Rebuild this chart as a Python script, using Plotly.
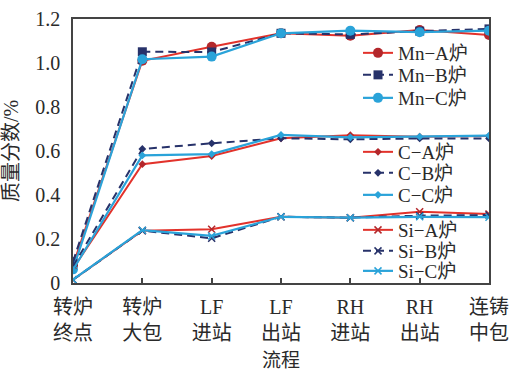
import plotly.graph_objects as go

stages = ["转炉<br>终点", "转炉<br>大包", "LF<br>进站", "LF<br>出站", "RH<br>进站", "RH<br>出站", "连铸<br>中包"]

mn_a = [0.08, 1.01, 1.074, 1.135, 1.124, 1.15, 1.127]
mn_b = [0.097, 1.051, 1.05, 1.135, 1.13, 1.145, 1.155]
mn_c = [0.062, 1.017, 1.029, 1.135, 1.147, 1.14, 1.147]
c_a = [0.065, 0.54, 0.577, 0.658, 0.672, 0.665, 0.668]
c_b = [0.075, 0.609, 0.635, 0.658, 0.653, 0.657, 0.657]
c_c = [0.06, 0.58, 0.586, 0.673, 0.662, 0.665, 0.67]
si_a = [0.015, 0.238, 0.244, 0.301, 0.297, 0.324, 0.314]
si_b = [0.015, 0.238, 0.203, 0.301, 0.297, 0.306, 0.309]
si_c = [0.015, 0.24, 0.214, 0.301, 0.297, 0.301, 0.299]

y_ticks = [0, 0.2, 0.4, 0.6, 0.8, 1.0, 1.2]
y_ticktext = ["0", "0.2", "0.4", "0.6", "0.8", "1.0", "1.2"]

RED = "#e2322b"
DRED = "#b3272b"
NAVY = "#27326a"
CYAN = "#2aa3d9"
FONT = "Liberation Serif, Noto Sans CJK SC, serif"

x = list(range(len(stages)))

series = [
    ("Mn−A炉", mn_a, RED, "solid", dict(symbol="circle", size=10, color=DRED), 2),
    ("Mn−B炉", mn_b, NAVY, "8px,5px", dict(symbol="square", size=9, color=NAVY), 2),
    ("Mn−C炉", mn_c, CYAN, "solid", dict(symbol="circle", size=10, color=CYAN), 2.2),
    ("C−A炉", c_a, RED, "solid", dict(symbol="diamond", size=6, color=DRED), 2),
    ("C−B炉", c_b, NAVY, "8px,5px", dict(symbol="diamond", size=6, color=NAVY), 2),
    ("C−C炉", c_c, CYAN, "solid", dict(symbol="diamond", size=6, color=CYAN), 2.2),
    ("Si−A炉", si_a, RED, "solid", dict(symbol="x-thin", size=7, color=DRED, line=dict(width=1.5, color=DRED)), 2),
    ("Si−B炉", si_b, NAVY, "8px,5px", dict(symbol="x-thin", size=7, color=NAVY, line=dict(width=1.5, color=NAVY)), 2),
    ("Si−C炉", si_c, CYAN, "solid", dict(symbol="x-thin", size=7, color=CYAN, line=dict(width=1.5, color=CYAN)), 2.2),
]

# legend entry y centers in pixels (top origin)
legend_px = [53, 75, 98, 152, 173, 195, 230, 251, 271]
H = 371
W = 510
ml, mr, mt, mb = 73, 21, 19, 88
plot_h = H - mt - mb
plot_w = W - ml - mr

fig = go.Figure()
layout_legends = {}
for i, (name, vals, col, dash, mk, lw) in enumerate(series):
    lname = "legend" if i == 0 else f"legend{i+1}"
    fig.add_trace(go.Scatter(
        x=x, y=vals, name=name, mode="lines+markers",
        line=dict(color=col, width=lw, dash=dash),
        marker=mk, legend=lname,
    ))
    ypaper = (H - mb - legend_px[i]) / plot_h
    xpaper = (358 - ml) / plot_w
    layout_legends[lname] = dict(
        x=xpaper, y=ypaper, xanchor="left", yanchor="middle",
        bgcolor="rgba(0,0,0,0)", borderwidth=0,
        font=dict(family=FONT, size=19, color="#2a2a2a"),
        itemwidth=30, tracegroupgap=0,
    )

fig.update_layout(
    width=W, height=H,
    margin=dict(l=ml, r=mr, t=mt, b=mb),
    paper_bgcolor="white", plot_bgcolor="white",
    font=dict(family=FONT, size=19, color="#2a2a2a"),
    showlegend=True,
    **layout_legends,
)

fig.update_xaxes(
    range=[0, 6], tickvals=x, ticktext=stages,
    ticks="inside", ticklen=5, tickwidth=1.5, tickcolor="#444",
    showline=True, linecolor="#444", linewidth=1.5, mirror=True,
    showgrid=False, zeroline=False, automargin=False,
    ticklabelstandoff=5,
    title=dict(text="流程", font=dict(family=FONT, size=19), standoff=18),
    tickfont=dict(family=FONT, size=20),
)
fig.update_yaxes(
    range=[0, 1.2], tickvals=y_ticks, ticktext=y_ticktext,
    ticks="", showline=True, linecolor="#444", linewidth=1.5, mirror=True,
    showgrid=False, zeroline=False, automargin=False,
    ticklabelstandoff=7,
    title=dict(text="质量分数/%", font=dict(family=FONT, size=20), standoff=12),
    tickfont=dict(family=FONT, size=20),
)

fig.write_html(
    "out.html",
    config={"displayModeBar": False},
    post_script="document.body.style.margin='0';document.body.style.overflow='hidden';",
)
